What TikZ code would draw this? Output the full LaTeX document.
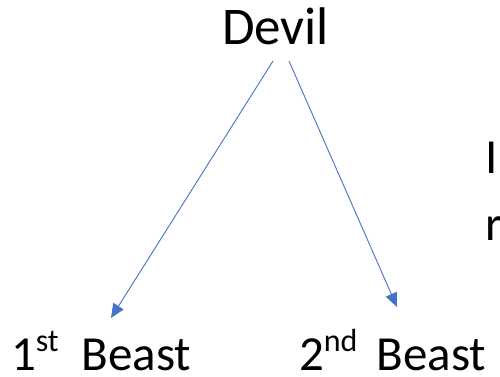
\documentclass[tikz,border=0pt]{standalone}
\usepackage{fontspec}
\setmainfont{Carlito}
\usetikzlibrary{arrows.meta}
\definecolor{arrowblue}{HTML}{4472C4}
\newcommand{\mysup}[1]{\raisebox{0.37em}{\fontsize{32bp}{32bp}\selectfont #1}}
\tikzset{
  lbl/.style={anchor=base west, inner sep=0pt, outer sep=0pt, text depth=0pt, font=\fontsize{49bp}{54bp}\selectfont, text=black},
  arr/.style={draw=arrowblue, line width=0.9bp, -{Triangle[length=14bp,width=12bp]}}
}
\begin{document}
\begin{tikzpicture}[x=1bp,y=-1bp]
\useasboundingbox (0,0) rectangle (500,376);
\node[lbl, font=\fontsize{53bp}{58bp}\selectfont] (devil) at (222,44) {Devil};
\node[lbl] (b1) at (11,370) {1\mysup{st}\hspace{12bp} Beast};
\node[lbl] (b2) at (299,370) {2\mysup{nd}\hspace{8bp} Beast};
\node[lbl] (i) at (485,173) {I};
\node[lbl] (r) at (485,240) {r};
\coordinate (s1) at (273,61);
\coordinate (t1) at (111,318);
\coordinate (s2) at (289,61);
\coordinate (t2) at (397,307);
\draw[arr] (s1) -- (t1);
\draw[arr] (s2) -- (t2);
\end{tikzpicture}
\end{document}
